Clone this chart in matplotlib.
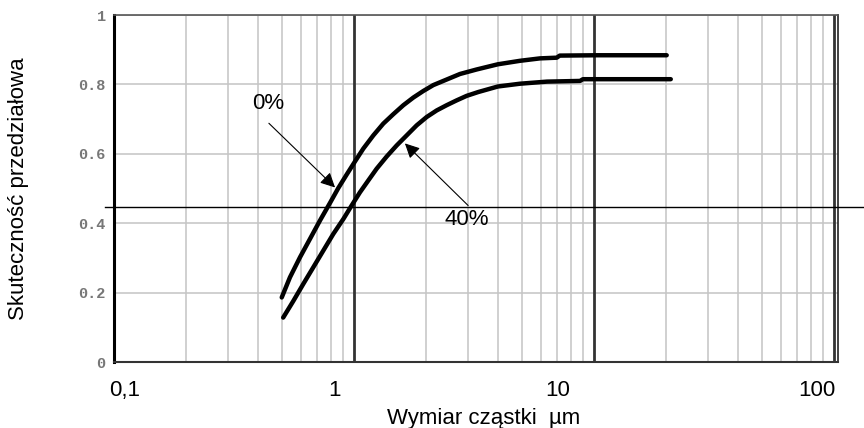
import numpy as np
import matplotlib
matplotlib.use('Agg')
import matplotlib.pyplot as plt
import matplotlib.transforms as mtransforms
from matplotlib.ticker import LogLocator, NullFormatter

# curve for 0%
size_0 = [0.50, 0.541, 0.596, 0.656, 0.722, 0.794, 0.860, 0.932, 1.01, 1.094, 1.204, 1.325,
          1.458, 1.606, 1.767, 1.945, 2.141, 2.433, 2.765, 3.244, 3.98, 4.92, 5.96, 7.0,
          7.2, 10.3, 14.0, 20.1]
eff_0 = [0.186, 0.244, 0.302, 0.355, 0.408, 0.458, 0.501, 0.540, 0.578, 0.615, 0.653, 0.687,
         0.714, 0.740, 0.762, 0.781, 0.798, 0.814, 0.830, 0.843, 0.858, 0.868, 0.875, 0.877,
         0.883, 0.884, 0.884, 0.884]

# curve for 40%
size_40 = [0.507, 0.559, 0.615, 0.677, 0.745, 0.820, 0.903, 0.978, 1.059, 1.147, 1.243, 1.368,
           1.506, 1.658, 1.825, 2.009, 2.212, 2.433, 2.679, 2.949, 3.295, 3.98, 4.92, 6.37,
           8.75, 9.0, 14.0, 20.9]
eff_40 = [0.128, 0.176, 0.225, 0.273, 0.321, 0.369, 0.412, 0.451, 0.489, 0.523, 0.557, 0.592,
          0.624, 0.653, 0.682, 0.706, 0.725, 0.740, 0.754, 0.767, 0.778, 0.794, 0.802, 0.808,
          0.810, 0.815, 0.815, 0.815]

cut_level = 0.448

xticks = [0.1, 1, 10, 100]
xticklabels = ['0,1', '1', '10', '100']
yticks = [0, 0.2, 0.4, 0.6, 0.8, 1]
yticklabels = ['0', '0.2', '0.4', '0.6', '0.8', '1']

plt.rcParams['font.family'] = ['Liberation Sans', 'DejaVu Sans']

fig = plt.figure(figsize=(8.64, 4.28), dpi=100)
ax = fig.add_axes([114/864, 1-362/428, 724/864, 347/428])

ax.set_xscale('log')
ax.set_xlim(0.1, 104)
ax.set_ylim(0, 1)

# grid
lightgrey = '#c4c4c4'
ax.xaxis.set_minor_locator(LogLocator(base=10, subs=range(2, 10)))
ax.xaxis.set_minor_formatter(NullFormatter())
ax.grid(which='minor', axis='x', color=lightgrey, lw=1.1)
ax.grid(which='major', axis='y', color=lightgrey, lw=1.1)
for v in xticks[1:]:
    ax.axvline(v, color='#333333', lw=2.0, zorder=2)

ax.plot(size_0, eff_0, color='k', lw=3.2, solid_capstyle='round', solid_joinstyle='round', zorder=3)
ax.plot(size_40, eff_40, color='k', lw=3.2, solid_capstyle='round', solid_joinstyle='round', zorder=3)

ax.axhline(cut_level, xmin=-0.0124, xmax=1.036, color='k', lw=1.0, clip_on=False, zorder=4)

arrow = dict(arrowstyle='-|>', color='k', lw=0.8, mutation_scale=22, shrinkA=0, shrinkB=0)
ax.annotate('', xy=(0.834, 0.503), xytext=(0.442, 0.688), arrowprops=arrow)
ax.text(0.44, 0.746, '0%', fontsize=16, ha='center', va='center')
ax.annotate('', xy=(1.63, 0.63), xytext=(2.99, 0.451), arrowprops=arrow)
ax.text(2.96, 0.41, '40%', fontsize=16, ha='center', va='center')

ax.set_xticks(xticks)
ax.set_xticklabels(xticklabels, fontsize=16)
ax.set_yticks(yticks)
ax.set_yticklabels(yticklabels, fontsize=11, family='Liberation Mono', fontweight='bold', color='#777777')
ax.tick_params(axis='both', which='both', length=0)
ax.tick_params(axis='x', pad=13)
ax.tick_params(axis='y', pad=6)

# the tick labels of the original sit off their gridlines
shifts = [8, -14, -26, -12]
for lab, dx in zip(ax.get_xticklabels(), shifts):
    lab.set_transform(lab.get_transform() + mtransforms.ScaledTranslation(dx/72, 0, fig.dpi_scale_trans))

ax.set_xlabel('Wymiar cząstki  \u00b5m', fontsize=16)
ax.xaxis.set_label_coords(0.511, -0.133)
ax.set_ylabel('Skuteczność przedziałowa', fontsize=16)
ax.yaxis.set_label_coords(-0.118, 0.5)

ax.spines['left'].set_linewidth(2.2)
ax.spines['left'].set_color('k')
ax.spines['bottom'].set_linewidth(1.5)
ax.spines['bottom'].set_color('#333333')
ax.spines['top'].set_linewidth(1.2)
ax.spines['top'].set_color('#555555')
ax.spines['right'].set_linewidth(1.2)
ax.spines['right'].set_color('#222222')

plt.savefig('out.png', dpi=100)
